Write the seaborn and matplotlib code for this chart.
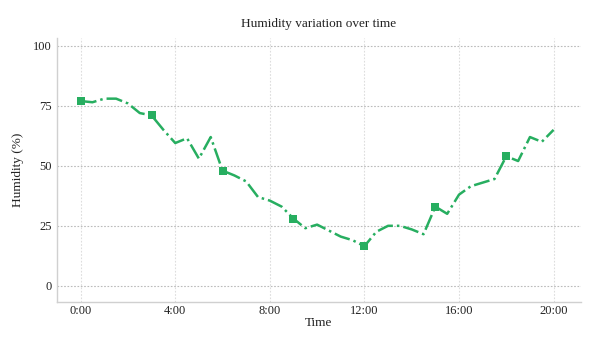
import matplotlib
matplotlib.use("Agg")
import matplotlib.pyplot as plt
import seaborn as sns
import pandas as pd

hours = [0, 0.5, 1, 1.5, 2, 2.5, 3, 3.5, 4, 4.5, 5, 5.5, 6, 6.5, 7, 7.5, 8, 8.5,
         9, 9.5, 10, 10.5, 11, 11.5, 12, 12.5, 13, 13.5, 14, 14.5, 15, 15.5, 16,
         16.5, 17, 17.5, 18, 18.5, 19, 19.5, 20]
humidity = [77, 76.5, 78, 78, 76, 72, 71, 65, 59.5, 61.5, 53, 62, 48, 46, 43.5, 37,
            35.5, 33, 28, 24, 25.5, 23, 20.5, 19, 16.5, 22.5, 25, 25, 23.5, 21.5,
            33, 30, 38, 41.5, 43, 44.5, 54, 52, 62, 60, 65]
x_ticks = [0, 4, 8, 12, 16, 20]
x_tick_labels = ["0:00", "4:00", "8:00", "12:00", "16:00", "20:00"]
y_ticks = [0, 25, 50, 75, 100]

df = pd.DataFrame({"Time": hours, "Humidity": humidity})

sns.set_theme(style="white")
plt.rcParams["font.family"] = ["Liberation Serif", "DejaVu Serif"]

fig = plt.figure(figsize=(6, 3.45), dpi=100)
ax = fig.add_axes([0.095, 0.125, 0.873, 0.765])

green = "#27ae60"
sns.lineplot(data=df, x="Time", y="Humidity", ax=ax, color=green,
             linestyle="-.", linewidth=1.8, marker="s", markersize=6,
             markevery=6, markeredgewidth=0)

ax.set_xlim(-1, 21.15)
ax.set_ylim(-6.7, 103.3)
ax.set_xticks(x_ticks)
ax.set_xticklabels(x_tick_labels)
ax.set_yticks(y_ticks)
ax.tick_params(axis="both", labelsize=9, length=0, colors="#222222")
ax.tick_params(axis="x", pad=2)
ax.tick_params(axis="y", pad=4)
ax.grid(True, axis="y", linestyle=(0, (1.5, 1.5)), color="#bbbbbb", linewidth=0.8)
ax.grid(True, axis="x", linestyle=(0, (1.5, 1.5)), color="#dddddd", linewidth=0.8)

for s in ["top", "right"]:
    ax.spines[s].set_visible(False)
for s in ["left", "bottom"]:
    ax.spines[s].set_color("#d0d0d0")
    ax.spines[s].set_linewidth(1)

ax.set_title("Humidity variation over time", fontsize=9.5, color="#222222", pad=8)
ax.set_xlabel("Time", fontsize=9.5, color="#222222", labelpad=0)
ax.set_ylabel("Humidity (%)", fontsize=9.5, color="#222222", labelpad=6)

fig.savefig("out.png", dpi=100)
